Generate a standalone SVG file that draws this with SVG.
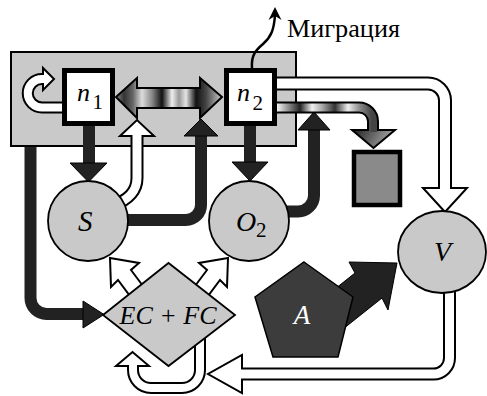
<svg xmlns="http://www.w3.org/2000/svg" width="487" height="396" viewBox="0 0 487 396">
<defs>
<linearGradient id="gDouble" gradientUnits="userSpaceOnUse" x1="116" y1="0" x2="222" y2="0">
<stop offset="0" stop-color="#888"/>
<stop offset="0.075" stop-color="#333"/>
<stop offset="0.16" stop-color="#666"/>
<stop offset="0.245" stop-color="#ddd"/>
<stop offset="0.34" stop-color="#888"/>
<stop offset="0.434" stop-color="#111"/>
<stop offset="0.528" stop-color="#eee"/>
<stop offset="0.594" stop-color="#999"/>
<stop offset="0.66" stop-color="#e5e5e5"/>
<stop offset="0.755" stop-color="#111"/>
<stop offset="0.85" stop-color="#444"/>
<stop offset="1" stop-color="#ccc"/>
</linearGradient>
<linearGradient id="gShaft" gradientUnits="userSpaceOnUse" x1="277" y1="0" x2="380" y2="0">
<stop offset="0" stop-color="#f5f5f5"/>
<stop offset="0.117" stop-color="#888"/>
<stop offset="0.223" stop-color="#222"/>
<stop offset="0.34" stop-color="#f0f0f0"/>
<stop offset="0.437" stop-color="#aaa"/>
<stop offset="0.563" stop-color="#333"/>
<stop offset="0.689" stop-color="#eee"/>
<stop offset="0.806" stop-color="#888"/>
<stop offset="0.922" stop-color="#444"/>
<stop offset="1" stop-color="#444"/>
</linearGradient>
<linearGradient id="gHead" gradientUnits="userSpaceOnUse" x1="355" y1="128" x2="392" y2="150">
<stop offset="0" stop-color="#222"/>
<stop offset="1" stop-color="#bbb"/>
</linearGradient>
</defs>
<style>
.lbl{font-family:"Liberation Serif","Times New Roman",serif;font-style:italic;fill:#000}
.sub{font-style:normal}
.bs{fill:none;stroke:#222;stroke-width:12}
.bh{fill:#222;stroke:#000;stroke-width:1}
.wo{fill:none;stroke:#000}
.wi{fill:none;stroke:#fff}
.wh{fill:#fff;stroke:#000;stroke-width:2}
.gray{fill:#c9c9c9;stroke:#000;stroke-width:1.8}
.box{fill:#fff;stroke:#000;stroke-width:5}
</style>

<rect id="domain" x="11" y="52" width="285" height="94" fill="#c9c9c9" stroke="#000" stroke-width="2"/>

<g id="connectors">
  <path class="bs" d="M89 120 V164"/>
  <polygon class="bh" points="70,163 107,163 88.5,182"/>
  <path class="bs" d="M250 120 V163"/>
  <polygon class="bh" points="232,162 268,162 250,181"/>
  <path class="bs" d="M115 220 H186 A15 15 0 0 0 201 205 V135"/>
  <polygon class="bh" points="184,136 218,136 201,119"/>
  <path class="bs" d="M282 211.5 H298 A16 16 0 0 0 314 195.5 V129"/>
  <polygon class="bh" points="298,130 330,130 314,112"/>
  <path class="bs" d="M30.5 147 V298 A16 16 0 0 0 46.5 314 H85"/>
  <polygon class="bh" points="83,301 83,328 104,314.5"/>
  <polygon class="bh" points="316,304 355,273 349,262 397,263 388,310 382,298 343,329"/>

  <polygon points="116,97 137,78 137,88 200,88 200,78 222,97 200,118 200,108 137,108 137,118" fill="url(#gDouble)" stroke="#000" stroke-width="2"/>

  <path class="wo" stroke-width="13" d="M112 206 C128 200 137 192 137 178 V136"/>
  <polygon class="wh" points="120,136 154,136 137,120"/>
  <path class="wi" stroke-width="9" d="M112 206 C128 200 137 192 137 178 V134"/>

  <path class="wo" stroke-width="12" d="M64 107.5 H42 A14.25 14.25 0 0 1 42 79 H44"/>
  <polygon class="wh" points="43,68 43,90 54,79"/>
  <path class="wi" stroke-width="8" d="M64 107.5 H42 A14.25 14.25 0 0 1 42 79 H45.5"/>

  <path class="wo" stroke-width="14" d="M270 83.5 H428 A17 17 0 0 1 445 100.5 V189"/>
  <polygon class="wh" points="423,188 467,188 445,212"/>
  <path class="wi" stroke-width="10" d="M270 83.5 H428 A17 17 0 0 1 445 100.5 V190.5"/>

  <path class="wo" stroke-width="12" d="M270 107.5 H359 A14 14 0 0 1 373 121.5 V131"/>
  <polygon points="352,130 395,130 373.5,148" fill="url(#gHead)" stroke="#000" stroke-width="2"/>
  <path fill="none" stroke="url(#gShaft)" stroke-width="8" d="M270 107.5 H359 A14 14 0 0 1 373 121.5 V132"/>

  <path class="wo" stroke-width="13" d="M449.5 285 V358 A16 16 0 0 1 433.5 374 H241"/>
  <polygon class="wh" points="242,355 242,393 208,374"/>
  <path class="wi" stroke-width="9" d="M449.5 285 V358 A16 16 0 0 1 433.5 374 H239.5"/>

  <path class="wo" stroke-width="12" d="M200 330 V370 A18 18 0 0 1 182 388 H151 A18 18 0 0 1 133 370 V366"/>
  <polygon class="wh" points="116,366 149,366 132.5,352"/>
  <path class="wi" stroke-width="8" d="M200 330 V370 A18 18 0 0 1 182 388 H151 A18 18 0 0 1 133 370 V364.5"/>

  <polygon class="wh" points="110,258 139,263 131,270 149,294 136,304 118,280 111,287"/>
  <polygon class="wh" points="228,258 199,263 207,270 189,294 202,304 220,280 227,287"/>

  <path d="M252 68 C251 55 256 50 263 44 C271 37 274 30 275 15" fill="none" stroke="#000" stroke-width="2.5"/>
  <path d="M275 7 L281.5 20 L275 16 L268.5 20 Z" fill="#000"/>
</g>

<g id="n1">
  <rect class="box" x="64.5" y="70.5" width="48" height="53"/>
  <text class="lbl" x="77" y="101" font-size="26">n<tspan class="sub" x="92.5" y="109" font-size="21">1</tspan></text>
</g>
<g id="n2">
  <rect class="box" x="226.5" y="70.5" width="48" height="53"/>
  <text class="lbl" x="237" y="101" font-size="26">n<tspan class="sub" x="252.5" y="110" font-size="21">2</tspan></text>
</g>
<g id="S">
  <circle class="gray" cx="88" cy="221" r="40"/>
  <text class="lbl" x="78" y="231" font-size="29">S</text>
</g>
<g id="O2">
  <circle class="gray" cx="249" cy="221" r="40"/>
  <text class="lbl" x="236" y="231" font-size="28">O<tspan class="sub" x="256" y="237" font-size="21">2</tspan></text>
</g>
<g id="V">
  <ellipse class="gray" cx="442" cy="252" rx="44" ry="41"/>
  <text class="lbl" x="434" y="261" font-size="28">V</text>
</g>
<g id="waste">
  <rect x="354" y="152" width="46" height="53" fill="#8a8a8a" stroke="#000" stroke-width="4.5"/>
</g>
<g id="A">
  <polygon points="304,262 353,297 338,357 273,357 255,297" fill="#3c3c3c" stroke="#000" stroke-width="1.5"/>
  <text class="lbl" x="302" y="324" font-size="27" text-anchor="middle" style="fill:#fff">A</text>
</g>
<g id="ECFC">
  <polygon class="gray" points="103,315 168.5,263 235,315 168.5,366"/>
  <text class="lbl" x="168" y="324" font-size="26" text-anchor="middle">EC + FC</text>
</g>
<g id="label">
  <text x="287" y="37" font-family="Liberation Serif, Times New Roman, serif" font-size="25" textLength="113" lengthAdjust="spacingAndGlyphs">Миграция</text>
</g>
</svg>
